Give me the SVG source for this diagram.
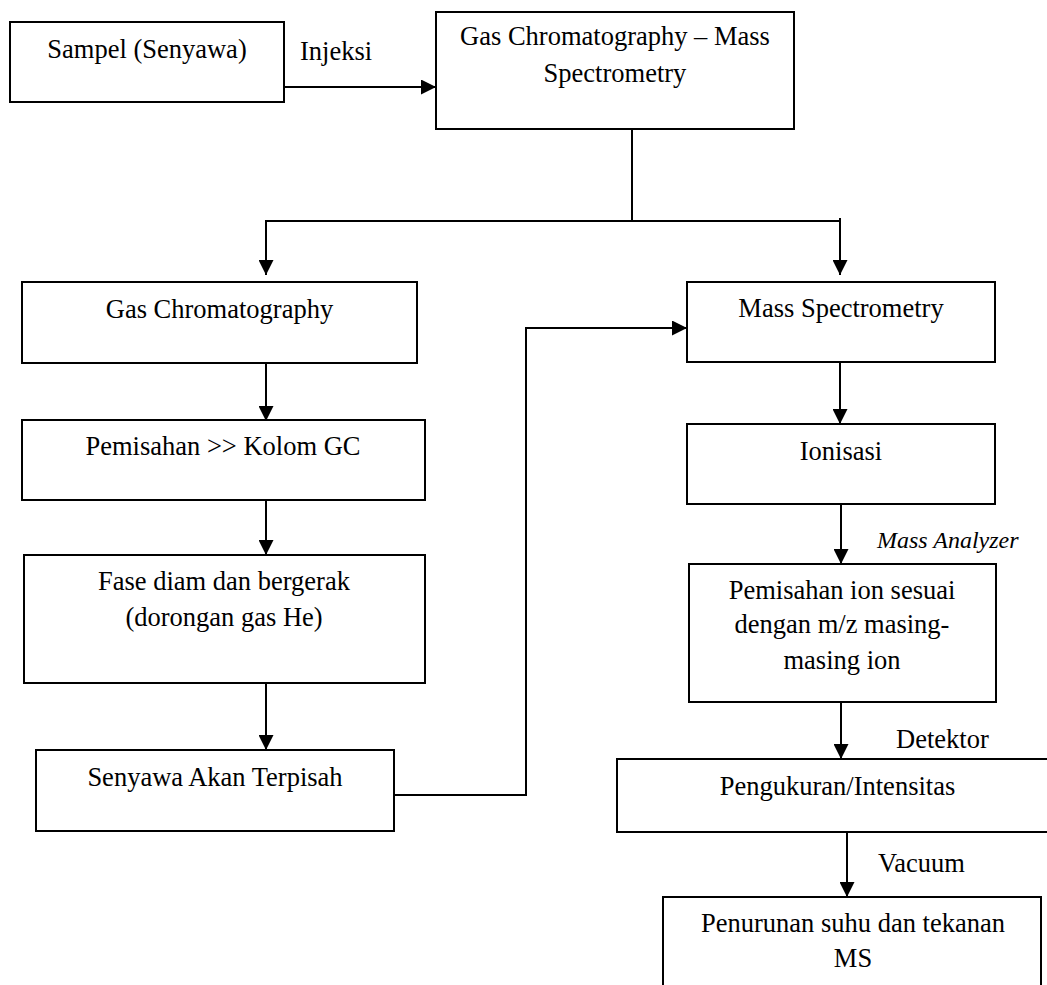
<svg xmlns="http://www.w3.org/2000/svg" width="1047" height="985" viewBox="0 0 1047 985">
<style>
.box{fill:#fff;stroke:#000;stroke-width:2}
.t{font-family:"Liberation Serif","Times New Roman",serif;font-size:26.5px;fill:#000;text-anchor:middle}
.l{font-family:"Liberation Serif","Times New Roman",serif;font-size:26.5px;fill:#000}
.i{font-family:"Liberation Serif","Times New Roman",serif;font-size:24px;font-style:italic;fill:#000}
.c{fill:none;stroke:#000;stroke-width:2}
</style>
<defs>
<marker id="ah" markerUnits="userSpaceOnUse" markerWidth="15" markerHeight="15" refX="15" refY="7.5" orient="auto">
<path d="M0,0 L15,7.5 L0,15 z" fill="#000"/>
</marker>
</defs>
<rect width="1047" height="985" fill="#fff"/>
<g id="connectors">
<line class="c" x1="284" y1="87" x2="436" y2="87" marker-end="url(#ah)"/>
<line class="c" x1="632" y1="129" x2="632" y2="221"/>
<line class="c" x1="265" y1="221" x2="841" y2="221"/>
<line class="c" x1="266" y1="220" x2="266" y2="275" marker-end="url(#ah)"/>
<line class="c" x1="840" y1="218" x2="840" y2="275" marker-end="url(#ah)"/>
<line class="c" x1="266" y1="363" x2="266" y2="421" marker-end="url(#ah)"/>
<line class="c" x1="266" y1="500" x2="266" y2="555" marker-end="url(#ah)"/>
<line class="c" x1="266" y1="683" x2="266" y2="750" marker-end="url(#ah)"/>
<path class="c" d="M394,795 H526 V328 H687" marker-end="url(#ah)"/>
<line class="c" x1="840" y1="362" x2="840" y2="424" marker-end="url(#ah)"/>
<line class="c" x1="841" y1="504" x2="841" y2="564" marker-end="url(#ah)"/>
<line class="c" x1="841" y1="702" x2="841" y2="759" marker-end="url(#ah)"/>
<line class="c" x1="847" y1="832" x2="847" y2="897" marker-end="url(#ah)"/>
</g>
<g id="labels">
<text class="l" x="300" y="60">Injeksi</text>
<text class="i" x="877" y="548">Mass Analyzer</text>
<text class="l" x="896" y="748">Detektor</text>
<text class="l" x="878" y="872">Vacuum</text>
</g>
<g id="n-sampel">
<rect class="box" x="10" y="22" width="274" height="80"/>
<text class="t" x="147" y="58">Sampel (Senyawa)</text>
</g>
<g id="n-gcms">
<rect class="box" x="436" y="12" width="358" height="117"/>
<text class="t" x="615" y="45">Gas Chromatography – Mass</text>
<text class="t" x="615" y="82">Spectrometry</text>
</g>
<g id="n-gc">
<rect class="box" x="22" y="282" width="395" height="81"/>
<text class="t" x="219.5" y="318">Gas Chromatography</text>
</g>
<g id="n-pemisahan">
<rect class="box" x="22" y="420" width="403" height="80"/>
<text class="t" x="223" y="455">Pemisahan &gt;&gt; Kolom GC</text>
</g>
<g id="n-fase">
<rect class="box" x="24" y="555" width="401" height="128"/>
<text class="t" x="224" y="590">Fase diam dan bergerak</text>
<text class="t" x="224" y="626">(dorongan gas He)</text>
</g>
<g id="n-senyawa">
<rect class="box" x="36" y="750" width="358" height="81"/>
<text class="t" x="215" y="786">Senyawa Akan Terpisah</text>
</g>
<g id="n-ms">
<rect class="box" x="687" y="282" width="308" height="80"/>
<text class="t" x="841" y="317">Mass Spectrometry</text>
</g>
<g id="n-ionisasi">
<rect class="box" x="687" y="424" width="308" height="80"/>
<text class="t" x="841" y="460">Ionisasi</text>
</g>
<g id="n-pemisahan-ion">
<rect class="box" x="689" y="564" width="307" height="138"/>
<text class="t" x="842" y="599">Pemisahan ion sesuai</text>
<text class="t" x="842" y="633">dengan m/z masing-</text>
<text class="t" x="842" y="669">masing ion</text>
</g>
<g id="n-pengukuran">
<rect class="box" x="617" y="759" width="443" height="73"/>
<text class="t" x="837.5" y="795">Pengukuran/Intensitas</text>
</g>
<g id="n-penurunan">
<rect class="box" x="663" y="897" width="378" height="100"/>
<text class="t" x="853" y="932">Penurunan suhu dan tekanan</text>
<text class="t" x="853" y="967">MS</text>
</g>
</svg>
